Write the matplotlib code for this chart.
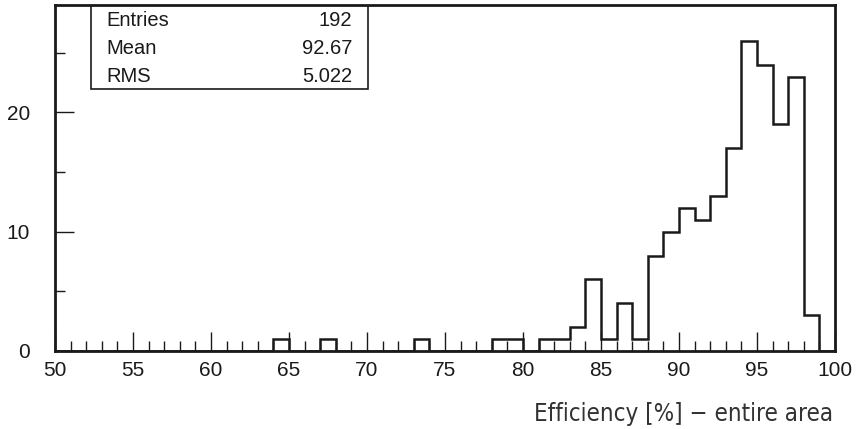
import numpy as np
import matplotlib
matplotlib.use("Agg")
import matplotlib.pyplot as plt
from matplotlib.ticker import MultipleLocator

# histogram contents, 1% bins from 50 to 100
bin_lo = 50
bin_hi = 100
nonzero_bins = [64, 67, 73, 78, 79, 81, 82, 83, 84, 85, 86, 87, 88, 89,
                90, 91, 92, 93, 94, 95, 96, 97, 98]
nonzero_counts = [1, 1, 1, 1, 1, 1, 1, 2, 6, 1, 4, 1, 8, 10,
                  12, 11, 13, 17, 26, 24, 19, 23, 3]

stat_names = ["Entries", "Mean", "RMS"]
stat_values = ["192", "92.67", "5.022"]
x_title = "Efficiency [%] \u2212 entire area"

edges = np.arange(bin_lo, bin_hi + 1)
counts = np.zeros(len(edges) - 1)
for b, c in zip(nonzero_bins, nonzero_counts):
    counts[b - bin_lo] = c

plt.rcParams['font.family'] = ['Liberation Sans', 'DejaVu Sans']
ink = "#1a1a1a"

fig = plt.figure(figsize=(8.57, 4.29), dpi=100)
ax = fig.add_axes([55 / 857, 1 - 351 / 429, 780 / 857, 346 / 429])

ax.stairs(counts, edges, color=ink, linewidth=1.8)

ax.set_xlim(bin_lo, bin_hi)
ax.set_ylim(0, 29)

for s in ax.spines.values():
    s.set_linewidth(2)
    s.set_color(ink)

ax.xaxis.set_major_locator(MultipleLocator(5))
ax.xaxis.set_minor_locator(MultipleLocator(1))
ax.yaxis.set_major_locator(MultipleLocator(10))
ax.yaxis.set_minor_locator(MultipleLocator(5))
ax.tick_params(which='both', direction='in', color=ink, width=1,
               labelsize=15, labelcolor=ink)
ax.tick_params(which='major', length=14)
ax.tick_params(which='minor', length=7)
ax.tick_params(axis='x', pad=7)
ax.tick_params(axis='y', pad=18)

# stats box
box = plt.Rectangle((91 / 780 - 55 / 780, 1 - 84 / 346), 277 / 780, 84 / 346,
                    transform=ax.transAxes, fill=False, edgecolor=ink,
                    linewidth=1.2)
ax.add_patch(box)
row_y = [21, 48, 76]
for name, val, y in zip(stat_names, stat_values, row_y):
    ax.text((106 - 55) / 780, 1 - (y - 5) / 346, name, transform=ax.transAxes,
            ha='left', va='center', fontsize=14.5, color=ink)
    ax.text((352 - 55) / 780, 1 - (y - 5) / 346, val, transform=ax.transAxes,
            ha='right', va='center', fontsize=14.5, color=ink)

fig.text(833 / 857, 1 - 421 / 429, x_title, ha='right', va='baseline',
         fontsize=17.3, color='#333333', family=['DejaVu Sans'],
         fontweight='light', fontstretch='condensed')

fig.savefig("out.png", dpi=100)
